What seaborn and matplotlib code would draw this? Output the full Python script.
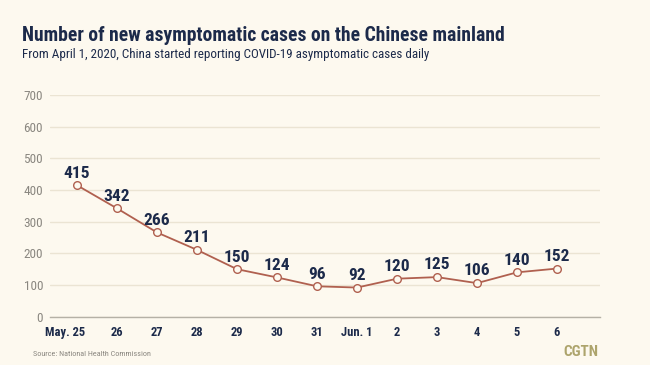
import matplotlib
matplotlib.use("Agg")
import matplotlib.pyplot as plt
import matplotlib.transforms as mtransforms
import seaborn as sns
import pandas as pd

dates = ["May. 25", "26", "27", "28", "29", "30", "31", "Jun. 1", "2", "3", "4", "5", "6"]
cases = [415, 342, 266, 211, 150, 124, 96, 92, 120, 125, 106, 140, 152]
yticks = [0, 100, 200, 300, 400, 500, 600, 700]

title = "Number of new asymptomatic cases on the Chinese mainland"
subtitle = "From April 1, 2020, China started reporting COVID-19 asymptomatic cases daily"
source = "Source: National Health Commission"

BG = "#fdf9ef"
NAVY = "#1c2a4a"
LINE = "#b0604f"
GRID = "#ebe4d3"
GREY = "#8a8780"

sns.set_theme(style="white")
FAM = ["Roboto Condensed", "Roboto", "DejaVu Sans"]
plt.rcParams["font.family"] = FAM

df = pd.DataFrame({"date": dates, "cases": cases})

fig = plt.figure(figsize=(6.5, 3.65), dpi=100, facecolor=BG)
ax = fig.add_axes([50 / 650, 1 - 316.7 / 365, 550 / 650, (316.7 - 95) / 365])
ax.set_facecolor(BG)

sns.lineplot(data=df, x="date", y="cases", sort=False, ax=ax, color=LINE,
             linewidth=1.3, marker="o", markersize=5.5,
             markerfacecolor=BG, markeredgecolor=LINE, markeredgewidth=1.0, zorder=3)

for i, v in enumerate(cases):
    ax.annotate(str(v), (i, v), xytext=(0, 5.5), textcoords="offset points",
                ha="center", va="baseline", fontsize=12.5, fontweight="bold",
                color=NAVY, zorder=4)

ax.set_ylim(0, 700)
ax.set_xlim(-0.675, 13.075)
ax.set_yticks(yticks)
ax.set_yticklabels([str(t) for t in yticks])
ax.yaxis.grid(True, color=GRID, linewidth=1.0)
ax.xaxis.grid(False)
ax.set_axisbelow(True)
for s in ["top", "right", "left"]:
    ax.spines[s].set_visible(False)
ax.spines["bottom"].set_color("#b5b1a6")
ax.spines["bottom"].set_linewidth(1.0)
ax.tick_params(axis="x", direction="out", length=4, width=1.0, color="#b5b1a6",
               labelsize=9, labelcolor=NAVY, pad=3)
ax.tick_params(axis="y", length=0, labelsize=9.5, labelcolor=GREY, pad=5)
for lab in ax.get_xticklabels():
    lab.set_fontweight("bold")
ax.set_xlabel("")
ax.set_ylabel("")

# shift first label like the reference
first = ax.get_xticklabels()[0]
first.set_transform(first.get_transform() + mtransforms.ScaledTranslation(-12 / 100, 0, fig.dpi_scale_trans))

fig.text(22 / 650, 1 - 40.7 / 365, title, fontsize=14.1, fontweight="bold",
         color=NAVY, va="baseline", ha="left")
fig.text(22 / 650, 1 - 58.3 / 365, subtitle, fontsize=9.4, color=NAVY,
         va="baseline", ha="left")
fig.text(33 / 650, 1 - 355.5 / 365, source, fontsize=5.9, color=GREY,
         va="baseline", ha="left")
fig.text(598 / 650, 1 - 355.5 / 365, "CGTN", fontsize=11, fontweight="bold",
         color="#ada46c", va="baseline", ha="right")

fig.savefig("out.png", dpi=100, facecolor=BG)
